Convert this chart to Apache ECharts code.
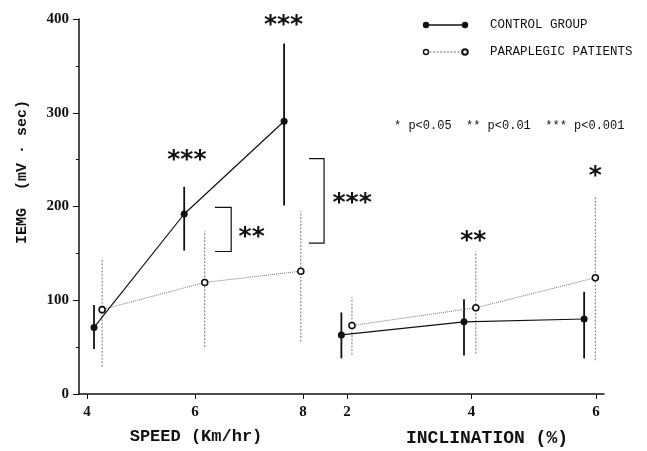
<!DOCTYPE html>
<html>
<head>
<meta charset="utf-8">
<script src="https://cdn.jsdelivr.net/npm/echarts@6/dist/echarts.min.js"></script>
<style>
  html, body { margin: 0; padding: 0; background: #fff; }
  #chart { width: 647px; height: 451px; }
</style>
</head>
<body>
<div id="chart"></div>
<script>
// tick labels
var speedTicks = [4, 6, 8];
var inclTicks = [2, 4, 6];
var yTicks = [0, 100, 200, 300, 400];

// control group - speed
var ctrlSpeedX = [4.13, 5.80, 7.65];
var ctrlSpeedMean = [71, 192, 291];
var ctrlSpeedLo = [48, 153, 201];
var ctrlSpeedHi = [95, 221, 374];
// paraplegic patients - speed
var paraSpeedX = [4.28, 6.18, 7.96];
var paraSpeedMean = [90, 119, 131];
var paraSpeedLo = [29, 50, 56];
var paraSpeedHi = [145, 174, 195];

// control group - inclination
var ctrlInclX = [1.91, 3.88, 5.81];
var ctrlInclMean = [63, 77, 80];
var ctrlInclLo = [38, 41, 38];
var ctrlInclHi = [87, 101, 109];
// paraplegic patients - inclination
var paraInclX = [2.08, 4.07, 5.99];
var paraInclMean = [73, 92, 124];
var paraInclLo = [42, 43, 36];
var paraInclHi = [103, 152, 210];

// significance marks  [x, y]
var starSpeedText = ['***', '***', '**', '***'];
var starSpeedPos = [[5.85, 254], [7.64, 398], [7.05, 172], [8.91, 209]];
var starInclText = ['**', '*'];
var starInclPos = [[4.03, 168], [5.99, 237]];
// brackets  [x0, x1, top, bottom]
var brackets = [[6.37, 6.67, 199, 152], [8.11, 8.39, 251, 161]];

var BLACK = '#111';
var GREY = '#777';
var SERIF = '"Liberation Serif", serif';
var MONO = '"Liberation Mono", monospace';

function zip(xs, ys) {
    var out = [];
    for (var i = 0; i < xs.length; i++) out.push([xs[i], ys[i]]);
    return out;
}
function zip3(xs, lo, hi) {
    var out = [];
    for (var i = 0; i < xs.length; i++) out.push([xs[i], lo[i], hi[i]]);
    return out;
}

function lineSeries(name, axis, xs, ys, filled) {
    return {
        name: name,
        type: 'line',
        xAxisIndex: axis,
        data: zip(xs, ys),
        symbol: 'circle',
        symbolSize: filled ? 7 : 6,
        itemStyle: filled ? { color: BLACK } : { color: '#fff', borderColor: BLACK, borderWidth: 1.6 },
        lineStyle: filled ? { color: BLACK, width: 1.2 } : { color: GREY, width: 1, type: 'dotted' },
        z: 5,
        animation: false
    };
}

function errorSeries(axis, xs, lo, hi, solid) {
    return {
        type: 'custom',
        xAxisIndex: axis,
        data: zip3(xs, lo, hi),
        encode: { x: 0, y: [1, 2] },
        z: 3,
        renderItem: function (params, api) {
            var a = api.coord([api.value(0), api.value(1)]);
            var b = api.coord([api.value(0), api.value(2)]);
            return {
                type: 'line',
                shape: { x1: a[0], y1: a[1], x2: b[0], y2: b[1] },
                style: solid ? { stroke: BLACK, lineWidth: 1.8 } : { stroke: GREY, lineWidth: 1, lineDash: [2, 1.5] }
            };
        },
        animation: false
    };
}

function starSeries(axis, pos, texts) {
    return {
        type: 'custom',
        xAxisIndex: axis,
        data: pos,
        z: 6,
        renderItem: function (params, api) {
            var p = api.coord([api.value(0), api.value(1)]);
            return {
                type: 'text',
                x: p[0], y: p[1] + 5,
                style: {
                    text: texts[params.dataIndex],
                    font: 'bold 25px "DejaVu Sans"',
                    fill: BLACK,
                    align: 'center',
                    verticalAlign: 'middle'
                }
            };
        },
        animation: false
    };
}

var chart = echarts.init(document.getElementById('chart'));

var option = {
    backgroundColor: '#fff',
    animation: false,
    grid: { left: 79, right: 43, top: 19, bottom: 57, containLabel: false },
    xAxis: [
        {
            type: 'value', position: 'bottom',
            min: 3.852, max: 13.574,
            splitLine: { show: false },
            axisLine: { show: true, onZero: false, lineStyle: { color: BLACK, width: 1.5 } },
            axisTick: { show: true, customValues: speedTicks, length: 5, lineStyle: { color: BLACK } },
            axisLabel: { customValues: speedTicks, margin: 11, color: BLACK, fontFamily: SERIF, fontWeight: 'bold', fontSize: 15 }
        },
        {
            type: 'value', position: 'bottom',
            min: -2.305, max: 6.129,
            splitLine: { show: false },
            axisLine: { show: false, onZero: false },
            axisTick: { show: true, customValues: inclTicks, length: 5, lineStyle: { color: BLACK } },
            axisLabel: { customValues: inclTicks, margin: 11, color: BLACK, fontFamily: SERIF, fontWeight: 'bold', fontSize: 15 }
        }
    ],
    yAxis: {
        type: 'value', min: 0, max: 400, interval: 100,
        splitLine: { show: false },
        axisLine: { show: true, onZero: false, lineStyle: { color: BLACK, width: 1.5 } },
        axisTick: { show: true, length: 6, lineStyle: { color: BLACK } },
        minorTick: { show: true, splitNumber: 2, length: 3, lineStyle: { color: BLACK } },
        axisLabel: { color: BLACK, margin: 10, fontFamily: SERIF, fontWeight: 'bold', fontSize: 15,
            customValues: yTicks }
    },
    series: [
        errorSeries(0, ctrlSpeedX, ctrlSpeedLo, ctrlSpeedHi, true),
        errorSeries(0, paraSpeedX, paraSpeedLo, paraSpeedHi, false),
        errorSeries(1, ctrlInclX, ctrlInclLo, ctrlInclHi, true),
        errorSeries(1, paraInclX, paraInclLo, paraInclHi, false),
        lineSeries('PARAPLEGIC PATIENTS', 0, paraSpeedX, paraSpeedMean, false),
        lineSeries('CONTROL GROUP', 0, ctrlSpeedX, ctrlSpeedMean, true),
        lineSeries('PARAPLEGIC PATIENTS', 1, paraInclX, paraInclMean, false),
        lineSeries('CONTROL GROUP', 1, ctrlInclX, ctrlInclMean, true),
        starSeries(0, starSpeedPos, starSpeedText),
        starSeries(1, starInclPos, starInclText),
        {
            // brackets between groups
            type: 'custom',
            xAxisIndex: 0,
            data: brackets,
            z: 4,
            renderItem: function (params, api) {
                var x0 = api.value(0), x1 = api.value(1);
                var top = api.value(2), bot = api.value(3);
                return {
                    type: 'polyline',
                    shape: { points: [api.coord([x0, top]), api.coord([x1, top]), api.coord([x1, bot]), api.coord([x0, bot])] },
                    style: { stroke: BLACK, lineWidth: 1.2, fill: null }
                };
            },
            animation: false
        }
    ],
    graphic: [
        // axis titles
        { type: 'text', x: 22, y: 172, rotation: Math.PI / 2,
          style: { text: 'IEMG  (mV \u00b7 sec)', font: 'bold 15px ' + MONO, fill: BLACK, align: 'center', verticalAlign: 'middle' } },
        { type: 'text', x: 196, y: 437,
          style: { text: 'SPEED (Km/hr)', font: 'bold 17px ' + MONO, fill: BLACK, align: 'center', verticalAlign: 'middle' } },
        { type: 'text', x: 487, y: 438,
          style: { text: 'INCLINATION (%)', font: 'bold 18px ' + MONO, fill: BLACK, align: 'center', verticalAlign: 'middle' } },
        // legend
        { type: 'line', shape: { x1: 426, y1: 25, x2: 465, y2: 25 }, style: { stroke: BLACK, lineWidth: 1.3 } },
        { type: 'circle', shape: { cx: 426, cy: 25, r: 3.2 }, style: { fill: BLACK } },
        { type: 'circle', shape: { cx: 465, cy: 25, r: 3.2 }, style: { fill: BLACK } },
        { type: 'text', x: 490, y: 25,
          style: { text: 'CONTROL GROUP', font: '12.5px ' + MONO, fill: BLACK, verticalAlign: 'middle' } },
        { type: 'line', shape: { x1: 426, y1: 52, x2: 465, y2: 52 }, style: { stroke: GREY, lineWidth: 1, lineDash: [2, 1.5] } },
        { type: 'circle', shape: { cx: 426, cy: 52, r: 2.5 }, style: { fill: '#fff', stroke: BLACK, lineWidth: 1.4 } },
        { type: 'circle', shape: { cx: 465, cy: 52, r: 2.8 }, style: { fill: '#fff', stroke: BLACK, lineWidth: 2 } },
        { type: 'text', x: 490, y: 52,
          style: { text: 'PARAPLEGIC PATIENTS', font: '12.5px ' + MONO, fill: BLACK, verticalAlign: 'middle' } },
        { type: 'text', x: 394, y: 126,
          style: { text: '* p<0.05  ** p<0.01  *** p<0.001', font: '12px ' + MONO, fill: BLACK, verticalAlign: 'middle' } }
    ]
};

chart.setOption(option);
</script>
</body>
</html>
